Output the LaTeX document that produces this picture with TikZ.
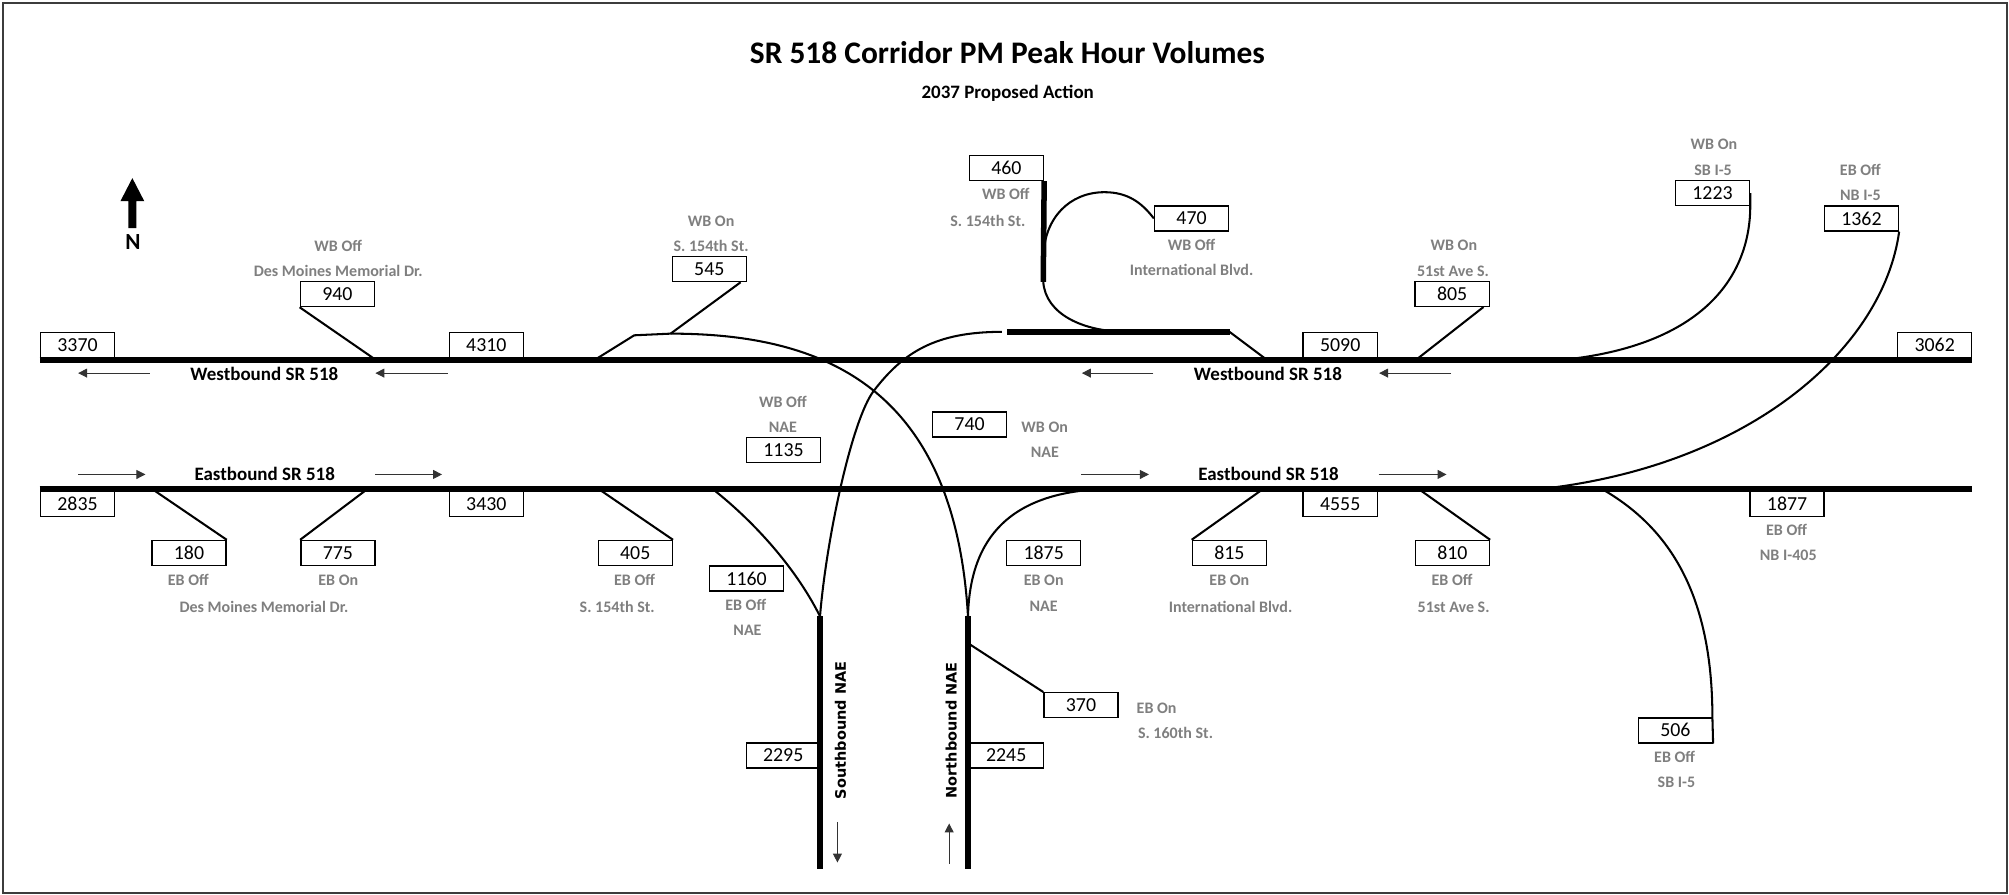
\documentclass[tikz,border=0pt]{standalone}
\usepackage{fontspec}
\setmainfont{Carlito}
\newfontfamily\nafont{DejaVu Sans}
\usetikzlibrary{arrows.meta,calc}
\definecolor{lblgray}{RGB}{127,127,127}
\definecolor{framegray}{RGB}{60,60,60}
\newcommand\fNum{\fontsize{15.5}{18}\selectfont}
\newcommand\fLbl{\fontsize{12.5}{15}\selectfont\bfseries}
\newcommand\fRoad{\fontsize{14.8}{17}\selectfont\bfseries}
\newcommand\fTitle{\fontsize{24.5}{28}\selectfont\bfseries}
\newcommand\fSub{\fontsize{14.8}{17}\selectfont\bfseries}
\newcommand\fN{\fontsize{18}{21}\selectfont\bfseries}
\newcommand\fNAE{\fontsize{11.3}{13}\selectfont\nafont\bfseries}
\tikzset{
  numbox/.style={draw, line width=1.1pt, minimum width=57.8pt, minimum height=19.5pt, inner sep=0pt, font=\fNum},
  lbl/.style={text=lblgray, font=\fLbl, inner sep=0pt, anchor=base},
  roadname/.style={font=\fRoad, inner sep=0pt, anchor=base},
  road/.style={line width=4.3pt},
  ramp/.style={line width=1.6pt},
  dirarrow/.style={line width=0.7pt, black!80, -{Triangle[length=7pt,width=7pt]}},
  naename/.style={font=\fNAE, rotate=90, inner sep=0pt}
}
\begin{document}
\begin{tikzpicture}[x=1pt,y=-1pt]
\useasboundingbox (0,0) rectangle (1568,698.5);
\draw[framegray, line width=2pt] (2.5,2.5) rectangle (1566.5,697);

% titles
\node[font=\fTitle, anchor=base, inner sep=0pt] (title) at (786.3,49.5) {SR 518 Corridor PM Peak Hour Volumes};
\node[font=\fSub, anchor=base, inner sep=0pt] (subtitle) at (786.5,77.1) {2037 Proposed Action};

% north arrow
\fill (100.2,178) -- (100.2,157) -- (94,157) -- (103.3,139) -- (112.6,157) -- (106.4,157) -- (106.4,178) -- cycle;
\node[font=\fN, anchor=base, inner sep=0pt] (north) at (103.8,194.5) {N};

% road coordinates
\coordinate (wbW) at (31,281);
\coordinate (wbE) at (1539,281);
\coordinate (ebW) at (31,381.5);
\coordinate (ebE) at (1539,381.5);
\coordinate (sbTop) at (640,481);
\coordinate (sbBot) at (640,678.4);
\coordinate (nbTop) at (755.5,481);
\coordinate (nbBot) at (755.5,678.4);

% boxes
\node[numbox] (b3370) at (60.5,269.25) {3370};
\node[numbox] (b4310) at (379.6,269.25) {4310};
\node[numbox] (b5090) at (1046,269.25) {5090};
\node[numbox] (b3062) at (1510,269.25) {3062};
\node[numbox] (b2835) at (60.5,393.25) {2835};
\node[numbox] (b3430) at (379.6,393.25) {3430};
\node[numbox] (b4555) at (1046,393.25) {4555};
\node[numbox] (b1877) at (1394.8,393.25) {1877};
\node[numbox] (b940) at (263.3,229.5) {940};
\node[numbox] (b545) at (553.6,210) {545};
\node[numbox] (b460) at (785.5,131) {460};
\node[numbox] (b470) at (930,170.5) {470};
\node[numbox] (b805) at (1133.4,229.3) {805};
\node[numbox] (b1223) at (1336.6,150.7) {1223};
\node[numbox] (b1362) at (1452.8,170.5) {1362};
\node[numbox] (b1135) at (611.5,351) {1135};
\node[numbox] (b740) at (756.7,331.4) {740};
\node[numbox] (b180) at (147.5,431.6) {180};
\node[numbox] (b775) at (263.7,431.6) {775};
\node[numbox] (b405) at (495.8,431.6) {405};
\node[numbox] (b1160) at (582.7,451.5) {1160};
\node[numbox] (b1875) at (814.6,431.6) {1875};
\node[numbox] (b815) at (959.5,431.6) {815};
\node[numbox] (b810) at (1133.6,431.6) {810};
\node[numbox] (b370) at (843.7,550.4) {370};
\node[numbox] (b2295) at (611.3,589.7) {2295};
\node[numbox] (b2245) at (785.3,589.7) {2245};
\node[numbox] (b506) at (1307.6,570) {506};

% main roads
\draw[road] (wbW) -- (wbE);
\draw[road] (ebW) -- (ebE);
\draw[road] (sbTop) -- (sbBot);
\draw[road] (nbTop) -- (nbBot);

% straight ramps
\draw[ramp] (b940.south west) -- (293.5,281) coordinate (j940);
\draw[ramp] ($(b805.south east)+(-5,0)$) -- (1105,281) coordinate (j805);
\draw[ramp] (118.5,381.5) coordinate (j180) -- (b180.north east);
\draw[ramp] (287,381.5) coordinate (j775) -- (b775.north west);
\draw[ramp] (467,381.5) coordinate (j405) -- (b405.north east);
\draw[ramp] (986,381.5) coordinate (j815) -- (b815.north west);
\draw[ramp] (1107,381.5) coordinate (j810) -- (b810.north east);
\draw[ramp] (755.5,502) coordinate (j370) -- (b370.north west);

% WB on from NAE (740) with S 154th on (545)
\draw[ramp] (464,281) coordinate (cC0) -- (495,261.7) coordinate (cCk) -- (523.4,260.4) coordinate (cC1)
  .. controls (640,260.4) and (745,300) .. (nbTop);
\draw[ramp] ($(b545.south east)+(-5,0)$) -- (cC1);

% WB off to NAE (1135)
\draw[ramp] (782,259) coordinate (cA0) .. controls (730,259) and (705,275) .. (682,305)
  .. controls (665,327) and (645,420) .. (sbTop);

% EB on from NAE (1875)
\draw[ramp] (nbTop) .. controls (757,420) and (788,383) .. (866,381.5) coordinate (cD1);

% EB off to NAE (1160)
\draw[ramp] (556,381.5) coordinate (cE0) .. controls (586,405) and (620,441) .. (sbTop);

% WB off S 154th (460) and International Blvd (470)
\draw[road] (b460.south east) -- (814.25,220) coordinate (f1);
\draw[ramp] (f1) .. controls (816,245) and (845,259) .. (880,259) coordinate (f2);
\draw[road] (786,259) coordinate (h0) -- (959.6,259) coordinate (h1);
\draw[ramp] (h1) -- (989,281) coordinate (h2);
\draw[ramp] (814.5,200) coordinate (lp0) .. controls (815,170) and (835,150) .. (862,150) coordinate (lp1)
  .. controls (880,150) and (891,158) .. (b470.west);

% WB on from SB I-5 (1223)
\draw[ramp] (b1223.east) -- ++(0,10) .. controls (1366,215) and (1330,270) .. (1218,281) coordinate (cG1);

% EB off to NB I-5 (1362)
\draw[ramp] (b1362.south east) .. controls (1470,270) and (1370,360) .. (1212,380.5) coordinate (cH1);

% EB off to SB I-5 (506)
\draw[ramp] (1250,381.5) coordinate (cI0) .. controls (1300,410) and (1336.5,460) .. (1336.5,560) -- (b506.south east);

% direction arrows
\draw[dirarrow] (117,291.2) coordinate (a1s) -- (61,291.2) coordinate (a1e);
\draw[dirarrow] (349.5,291.2) coordinate (a2s) -- (293,291.2) coordinate (a2e);
\draw[dirarrow] (900.2,291.2) coordinate (a3s) -- (844.4,291.2) coordinate (a3e);
\draw[dirarrow] (1132.5,291.2) coordinate (a4s) -- (1076.4,291.2) coordinate (a4e);
\draw[dirarrow] (61,370.3) coordinate (a5s) -- (113.5,370.3) coordinate (a5e);
\draw[dirarrow] (293,370.3) coordinate (a6s) -- (345,370.3) coordinate (a6e);
\draw[dirarrow] (844,370.3) coordinate (a7s) -- (896.7,370.3) coordinate (a7e);
\draw[dirarrow] (1076,370.3) coordinate (a8s) -- (1129,370.3) coordinate (a8e);
\draw[dirarrow] (653.6,641.4) coordinate (a9s) -- (653.6,673.2) coordinate (a9e);
\draw[dirarrow] (740.8,674) coordinate (a10s) -- (740.8,642.7) coordinate (a10e);

% road names
\node[roadname] (wbn1) at (206.3,297) {Westbound SR 518};
\node[roadname] (wbn2) at (989.6,297) {Westbound SR 518};
\node[roadname] (ebn1) at (206.6,375) {Eastbound SR 518};
\node[roadname] (ebn2) at (990,375) {Eastbound SR 518};
\node[naename] (sbname) at (656,570) {Southbound NAE};
\node[naename] (nbname) at (742.5,570) {Northbound NAE};

% gray labels
\node[lbl] (l940a) at (264,196) {WB Off};
\node[lbl] (l940b) at (264,216) {Des Moines Memorial Dr.};
\node[lbl] (l545a) at (555,177) {WB On};
\node[lbl] (l545b) at (555,196.6) {S. 154th St.};
\node[lbl] (l460a) at (785,156) {WB Off};
\node[lbl] (l460b) at (771,176.6) {S. 154th St.};
\node[lbl] (l470a) at (930,195.3) {WB Off};
\node[lbl] (l470b) at (930,215) {International Blvd.};
\node[lbl] (l805a) at (1134.7,195.8) {WB On};
\node[lbl] (l805b) at (1134,216) {51st Ave S.};
\node[lbl] (l1223a) at (1337.7,117) {WB On};
\node[lbl] (l1223b) at (1337,136.7) {SB I-5};
\node[lbl] (l1362a) at (1452,136.7) {EB Off};
\node[lbl] (l1362b) at (1452,156.3) {NB I-5};
\node[lbl] (l1135a) at (611,317.7) {WB Off};
\node[lbl] (l1135b) at (611,337.2) {NAE};
\node[lbl] (l740a) at (815.4,337.2) {WB On};
\node[lbl] (l740b) at (815.5,356.8) {NAE};
\node[lbl] (l180a) at (147,457) {EB Off};
\node[lbl] (l775a) at (264,457) {EB On};
\node[lbl] (ldmmd) at (206,477.9) {Des Moines Memorial Dr.};
\node[lbl] (l405a) at (495.3,457) {EB Off};
\node[lbl] (l405b) at (481.7,477.9) {S. 154th St.};
\node[lbl] (l1160a) at (582,476.6) {EB Off};
\node[lbl] (l1160b) at (583.4,496) {NAE};
\node[lbl] (l1875a) at (814.6,457) {EB On};
\node[lbl] (l1875b) at (814.5,477) {NAE};
\node[lbl] (l815a) at (959.5,457) {EB On};
\node[lbl] (l815b) at (960.4,477.9) {International Blvd.};
\node[lbl] (l810a) at (1133.3,457) {EB Off};
\node[lbl] (l810b) at (1134.5,477.9) {51st Ave S.};
\node[lbl] (l1877a) at (1394.4,418) {EB Off};
\node[lbl] (l1877b) at (1395.7,437.5) {NB I-405};
\node[lbl, anchor=base west] (l370a) at (887,556.8) {EB On};
\node[lbl, anchor=base west] (l370b) at (888,576) {S. 160th St.};
\node[lbl] (l506a) at (1307,595) {EB Off};
\node[lbl] (l506b) at (1308.4,615) {SB I-5};
\end{tikzpicture}
\end{document}
